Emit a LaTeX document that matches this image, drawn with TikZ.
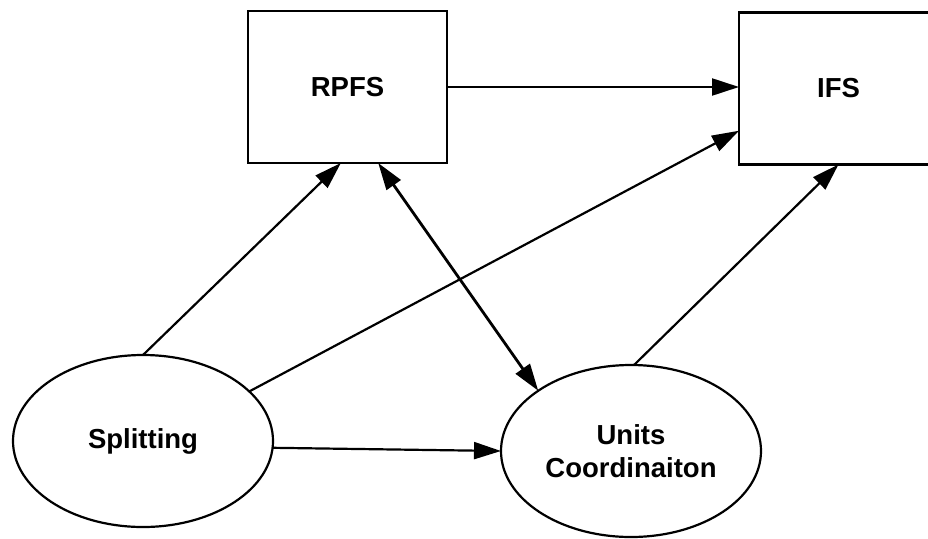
\documentclass[tikz,border=0pt]{standalone}
\usepackage{fontspec}
\setmainfont{Liberation Sans}
\usetikzlibrary{arrows.meta,calc,shapes.geometric}
\tikzset{
  box/.style={draw, line width=2.4pt, rectangle, minimum width=199pt, minimum height=152pt,
    inner sep=0pt, outer sep=0pt, font=\fontsize{27.5}{33}\selectfont\bfseries},
  oval/.style={draw, line width=2.2pt, ellipse, minimum width=260pt, minimum height=172pt,
    inner sep=0pt, outer sep=0pt, align=center, font=\fontsize{27.5}{33}\selectfont\bfseries},
  link/.style={line width=2.2pt, -{Triangle[length=27pt,width=17pt]}},
  both/.style={line width=2.8pt, {Triangle[length=27pt,width=17pt]}-{Triangle[length=27pt,width=17pt]}}
}
\begin{document}
\begin{tikzpicture}[x=1pt,y=-1pt]
  \path[use as bounding box, fill=white] (0,0) rectangle (928,538);
  \clip (0,0) rectangle (928,538);

  % boxes
  \node[box] (rpfs) at (347.5,87) {RPFS};
  \node[box] (ifs) at (838.5,88.5) {IFS};

  % ellipses
  \node[oval] (split) at (143,441) {Splitting};
  \node[oval] (units) at (631,451) {Units\\Coordinaiton};

  % connectors
  \draw[link] (rpfs.east) -- (rpfs.east -| ifs.west);
  \draw[link] (split.90) -- (rpfs.-95.6);
  \draw[link] (split.25.9) -- (ifs.-157.4);
  \draw[link] (split.-3) -- (units.180);
  \draw[link] (units.88) -- (ifs.south);
  \draw[both] (rpfs.-68.1) -- (units.147.6);
\end{tikzpicture}
\end{document}
